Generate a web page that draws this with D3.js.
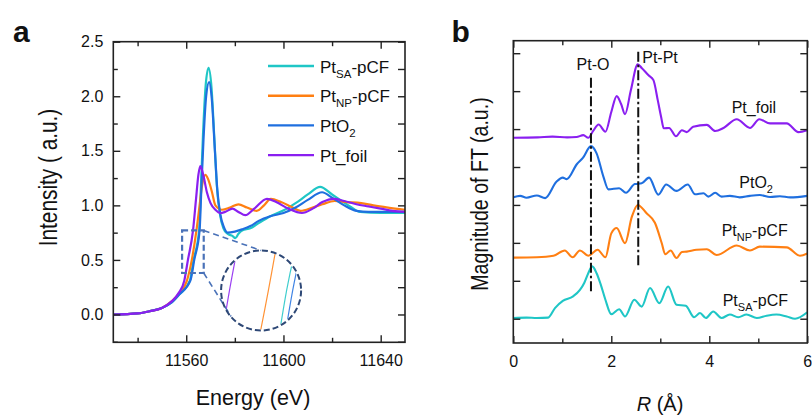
<!DOCTYPE html>
<html>
<head>
<meta charset="utf-8">
<script src="https://cdn.jsdelivr.net/npm/d3@7"></script>
<style>
  body { margin: 0; background: #fff; }
  text { font-family: "Liberation Sans", Arial, sans-serif; fill: #111; }
</style>
</head>
<body>
<svg id="fig" width="812" height="416"></svg>
<script>
// ---------- XANES (panel a): [energy eV, normalized intensity] ----------
const xanesSA = [[11530,0.00],[11540,0.01],[11545,0.03],[11550,0.06],[11554,0.11],[11557,0.18],[11561.5,0.31],[11563.05,0.5],[11565.3,0.77],[11566,1.14],[11566.9,1.65],[11568,2.1],[11569.2,2.26],[11570.4,2.08],[11571.6,1.6],[11572.6,1.18],[11573.8,0.93],[11575.3,0.79],[11577,0.74],[11579,0.72],[11580.2,0.70],[11581.5,0.74],[11583,0.77],[11586.4,0.79],[11590,0.84],[11594.6,0.9],[11601.4,0.97],[11605,1.02],[11610,1.1],[11615.1,1.17],[11620,1.1],[11627.4,0.99],[11631.6,0.94],[11640,0.93],[11650,0.93]];
const xanesNP = [[11530,0.00],[11540,0.01],[11545,0.03],[11550,0.06],[11554,0.12],[11557,0.19],[11560.3,0.31],[11562.3,0.5],[11564.2,0.77],[11565.5,1.0],[11566.5,1.18],[11567.9,1.28],[11569,1.24],[11570.5,1.13],[11572,1.0],[11574.7,0.96],[11578,0.98],[11581.5,1.01],[11585,0.98],[11589,0.95],[11592,1.0],[11594.8,1.06],[11599,1.03],[11603,0.99],[11607,0.95],[11612,0.98],[11616,1.01],[11621,1.04],[11626,1.03],[11632,1.02],[11637,1.0],[11643,0.98],[11650,0.96]];
const xanesPtO2 = [[11530,0.00],[11540,0.01],[11545,0.03],[11550,0.06],[11554,0.11],[11557,0.18],[11561.7,0.31],[11563.3,0.5],[11565.5,0.77],[11566.2,1.14],[11567.1,1.6],[11568.2,2.0],[11569.4,2.13],[11570.5,1.98],[11571.8,1.5],[11572.8,1.14],[11574,0.92],[11575.5,0.8],[11577,0.75],[11580,0.76],[11583,0.78],[11586.4,0.81],[11590,0.86],[11594.6,0.9],[11600,0.93],[11605,0.98],[11610,1.05],[11615.9,1.12],[11620,1.07],[11625,1.0],[11630,0.95],[11635,0.94],[11640,0.94],[11650,0.94]];
const xanesFoil = [[11530,0.00],[11540,0.01],[11545,0.03],[11550,0.06],[11554,0.12],[11557,0.2],[11559.2,0.31],[11560.7,0.5],[11562.8,0.77],[11564,1.05],[11565,1.28],[11565.8,1.36],[11567,1.28],[11568.5,1.12],[11570,1.02],[11572,0.96],[11574,0.93],[11576,0.94],[11579,0.97],[11581.5,0.94],[11584.3,0.91],[11588,0.97],[11593.2,1.06],[11597,1.03],[11602,0.97],[11607.6,0.93],[11612,0.97],[11616,1.03],[11620.7,1.06],[11625,1.04],[11630,1.01],[11635,0.99],[11640,0.97],[11645,0.95],[11650,0.94]];

// ---------- FT-EXAFS (panel b): [R Å, |FT| with vertical offset] ----------
const ftSA = [[0,0.02],[0.27,0.03],[0.48,0.02],[0.71,0.03],[0.85,0.28],[1.01,0.47],[1.22,0.59],[1.36,0.76],[1.45,0.95],[1.53,1.2],[1.61,1.38],[1.7,1.2],[1.78,0.92],[1.88,0.5],[2.0,0.12],[2.16,0.25],[2.28,0.06],[2.47,0.50],[2.62,0.32],[2.79,0.81],[2.98,0.41],[3.16,0.85],[3.33,0.37],[3.52,0.34],[3.69,0.04],[3.81,0.15],[3.93,0.02],[4.08,0.19],[4.25,0.02],[4.42,0.11],[4.59,0.04],[4.76,0.11],[4.97,0.02],[5.17,0.08],[5.37,0.11],[5.58,0.06],[5.75,0.0],[6.0,0.17]];
const ftNP = [[0,1.61],[0.48,1.62],[0.82,1.66],[1.05,1.80],[1.21,1.62],[1.36,1.80],[1.53,1.66],[1.72,1.82],[1.88,1.62],[2.0,2.25],[2.11,2.39],[2.28,1.99],[2.42,2.69],[2.54,3.00],[2.72,2.78],[2.89,2.53],[3.03,1.99],[3.1,1.70],[3.21,1.80],[3.33,1.60],[3.44,1.76],[3.54,1.77],[3.74,1.82],[3.95,1.83],[4.15,1.68],[4.56,1.93],[4.83,1.80],[5.03,1.90],[5.58,1.88],[5.85,1.66],[6.0,1.72]];
const ftPtO2 = [[0,3.20],[0.14,3.24],[0.27,3.19],[0.48,3.25],[0.65,3.18],[0.88,3.61],[1.01,3.72],[1.09,3.68],[1.3,4.08],[1.42,4.24],[1.585,4.55],[1.7,4.36],[1.84,3.74],[1.94,3.41],[2.16,3.44],[2.3,3.32],[2.48,3.55],[2.62,3.57],[2.77,3.72],[2.96,3.27],[3.12,3.54],[3.33,3.37],[3.56,3.54],[3.71,3.28],[3.88,3.31],[3.98,3.22],[4.12,3.32],[4.25,3.22],[4.42,3.24],[4.62,3.20],[4.83,3.24],[5.03,3.26],[5.24,3.21],[5.44,3.23],[5.65,3.20],[6.0,3.24]];
const ftFoil = [[0,4.77],[0.5,4.78],[0.8,4.8],[1.1,4.78],[1.29,4.79],[1.43,4.84],[1.53,4.77],[1.63,4.95],[1.74,5.12],[1.88,4.93],[2.0,5.45],[2.11,5.87],[2.2,5.66],[2.28,5.39],[2.4,6.03],[2.54,6.71],[2.62,6.61],[2.76,6.42],[2.86,6.29],[2.95,5.75],[3.02,5.3],[3.07,5.02],[3.18,5.03],[3.32,4.81],[3.44,4.97],[3.54,4.92],[3.67,5.06],[3.95,5.11],[4.12,4.95],[4.29,5.03],[4.56,5.26],[4.83,5.03],[5.02,5.26],[5.24,5.15],[5.58,5.15],[5.82,4.92],[6.0,4.97]];

// ---------- labels & ticks ----------
const seriesColors = ["#1fc6c6", "#ff7f12", "#1f6fdf", "#8a1ff0"];
const seriesLabels = [
  [["Pt",0],["SA",1],["-pCF",0]],
  [["Pt",0],["NP",1],["-pCF",0]],
  [["PtO",0],["2",1]],
  [["Pt_foil",0]]
];
const xanesMajorTicks = [11560, 11600, 11640];
const xanesMinorTicks = [11540, 11580, 11620];
const intensityTicks = [0, 0.5, 1.0, 1.5, 2.0, 2.5];
const intensityMinorTicks = [-0.25, 0.25, 0.75, 1.25, 1.75, 2.25];
const rMajorTicks = [0, 2, 4, 6];
const rMinorTicks = [1, 3, 5];
const ftTicks = [0, 1, 2, 3, 4, 5, 6, 7];
const bondLines = [{label: "Pt-O", r: 1.585, from: 0.68, to: 6.35},
                   {label: "Pt-Pt", r: 2.55, from: 1.36, to: 7.04}];

const svg = d3.select("#fig");

// text with subscripts: each subscript is lowered, the next run is raised back
function richText(g, parts, size, subSize) {
  let shift = 0;
  parts.forEach(([s, sub]) => {
    const target = sub ? size * 0.3 : 0;
    g.append("tspan").text(s)
      .attr("font-size", sub ? subSize : size)
      .attr("dy", target - shift);
    shift = target;
  });
}

function frameAxes(g, x, y, opts) {
  const [x0, x1] = x.range(), [y0, y1] = y.range();
  g.append("g").attr("transform", `translate(0,${y0})`)
    .call(d3.axisBottom(x).tickValues(opts.xMajor).tickSize(-7).tickPadding(opts.xPad).tickFormat(opts.xfmt))
    .call(a => a.select(".domain").remove());
  g.append("g").attr("transform", `translate(0,${y0})`)
    .call(d3.axisBottom(x).tickValues(opts.xMinor).tickSize(-4.5).tickFormat(""))
    .call(a => a.select(".domain").remove());
  g.append("g").attr("transform", `translate(0,${y1})`)
    .call(d3.axisTop(x).tickValues(opts.xMajor).tickSize(-7).tickFormat(""))
    .call(a => a.select(".domain").remove());
  g.append("g").attr("transform", `translate(0,${y1})`)
    .call(d3.axisTop(x).tickValues(opts.xMinor).tickSize(-4.5).tickFormat(""))
    .call(a => a.select(".domain").remove());
  if (opts.yfmt) {
    g.append("g").attr("transform", `translate(${x0},0)`)
      .call(d3.axisLeft(y).tickValues(opts.yMajor).tickSize(-7).tickPadding(10).tickFormat(opts.yfmt))
      .call(a => a.select(".domain").remove());
  } else {
    g.append("g").attr("transform", `translate(${x0},0)`)
      .call(d3.axisLeft(y).tickValues(opts.yMajor).tickSize(-7))
      .call(a => a.select(".domain").remove())
      .call(a => a.selectAll(".tick text").remove());
  }
  g.append("g").attr("transform", `translate(${x1},0)`)
    .call(d3.axisRight(y).tickValues(opts.yMajor).tickSize(-7))
    .call(a => a.select(".domain").remove())
    .call(a => a.selectAll(".tick text").remove());
  if (opts.yMinor) {
    g.append("g").attr("transform", `translate(${x0},0)`)
      .call(d3.axisLeft(y).tickValues(opts.yMinor).tickSize(-4.5))
      .call(a => a.select(".domain").remove())
      .call(a => a.selectAll(".tick text").remove());
    g.append("g").attr("transform", `translate(${x1},0)`)
      .call(d3.axisRight(y).tickValues(opts.yMinor).tickSize(-7))
      .call(a => a.select(".domain").remove())
      .call(a => a.selectAll(".tick text").remove());
  }
  // drop empty labels left by blank tick formats
  g.selectAll(".tick text").filter(function () { return !this.textContent; }).remove();
  g.selectAll(".tick line").attr("stroke", "#222").attr("stroke-width", 1.4);
  g.selectAll(".tick text").attr("font-size", 16).attr("fill", "#111")
    .attr("font-family", '"Liberation Sans", Arial, sans-serif');
  g.append("rect").attr("x", x0).attr("y", y1).attr("width", x1 - x0).attr("height", y0 - y1)
    .attr("fill", "none").attr("stroke", "#222").attr("stroke-width", 1.6);
}

// ================= panel a =================
const xA = d3.scaleLinear([11530, 11650], [113.3, 405]);
const yA = d3.scaleLinear([-0.255, 2.5], [342.3, 41.7]);
const gA = svg.append("g");
const xanesSeries = [xanesSA, xanesNP, xanesPtO2, xanesFoil];

const lineA = d3.line().x(d => xA(d[0])).y(d => yA(d[1])).curve(d3.curveMonotoneX);
gA.append("g").selectAll("path").data(xanesSeries).join("path")
  .attr("d", lineA).attr("fill", "none")
  .attr("stroke", (d, i) => seriesColors[i]).attr("stroke-width", 2.2);

frameAxes(gA, xA, yA, {
  xMajor: xanesMajorTicks, xMinor: xanesMinorTicks, xPad: 12, xfmt: d3.format("d"),
  yMajor: intensityTicks, yMinor: intensityMinorTicks, yfmt: d3.format(".1f")
});

// zoom box around the absorption edge and its magnified view
const boxE = [11558.3, 11567.2], boxV = [0.38, 0.77];
const lens = {E: 11590.8, v: 0.22, r: 40};
const focus = {E: 11562.0, v: 0.5}, mag = 10;
const lcx = xA(lens.E), lcy = yA(lens.v);
gA.append("rect")
  .attr("x", xA(boxE[0])).attr("y", yA(boxV[1]))
  .attr("width", xA(boxE[1]) - xA(boxE[0])).attr("height", yA(boxV[0]) - yA(boxV[1]))
  .attr("fill", "none").attr("stroke", "#4a72b8").attr("stroke-width", 2.2)
  .attr("stroke-dasharray", "6,3");
const connectors = [
  [[xA(boxE[1]), yA(boxV[1])], [lcx, lcy - lens.r]],
  [[xA(boxE[1]), yA(boxV[0])], [lcx - 30, lcy + 26]]
];
gA.selectAll("line.conn").data(connectors).join("line").attr("class", "conn")
  .attr("x1", d => d[0][0]).attr("y1", d => d[0][1])
  .attr("x2", d => d[1][0]).attr("y2", d => d[1][1])
  .attr("stroke", "#4a72b8").attr("stroke-width", 1.6).attr("stroke-dasharray", "6,4");

svg.append("clipPath").attr("id", "lensClip")
  .append("circle").attr("cx", lcx).attr("cy", lcy).attr("r", lens.r - 1);
const lineLens = d3.line()
  .x(d => lcx + mag * (xA(d[0]) - xA(focus.E)))
  .y(d => lcy + mag * (yA(d[1]) - yA(focus.v)))
  .curve(d3.curveMonotoneX);
gA.append("g").attr("clip-path", "url(#lensClip)")
  .selectAll("path").data(xanesSeries).join("path")
  .attr("d", d => lineLens(d.filter(p => p[0] > 11550 && p[0] < 11570)))
  .attr("fill", "none").attr("stroke", (d, i) => seriesColors[i])
  .attr("stroke-width", 1.2).attr("opacity", 0.85);
gA.append("circle").attr("cx", lcx).attr("cy", lcy).attr("r", lens.r)
  .attr("fill", "none").attr("stroke", "#2e4876").attr("stroke-width", 2)
  .attr("stroke-dasharray", "6,3");

// legend
const legA = gA.append("g");
seriesLabels.forEach((parts, i) => {
  const yy = 66 + i * 29.7;
  legA.append("line").attr("x1", 268).attr("x2", 314).attr("y1", yy).attr("y2", yy)
    .attr("stroke", seriesColors[i]).attr("stroke-width", 2.4);
  const t = legA.append("text").attr("x", 320).attr("y", yy + 6.5);
  richText(t, parts, 17, 11.5);
});

gA.append("text").attr("x", 253).attr("y", 405).attr("text-anchor", "middle")
  .attr("font-size", 21.5).text("Energy (eV)");
gA.append("text").attr("transform", "translate(57,177.5) rotate(-90) scale(0.8,1)")
  .attr("text-anchor", "middle").attr("font-size", 26).text("Intensity ( a.u.)");
svg.append("text").attr("x", 13).attr("y", 42).attr("font-size", 30)
  .attr("font-weight", "bold").text("a");

// ================= panel b =================
const xB = d3.scaleLinear([0, 6], [513.3, 807.3]);
const yB = d3.scaleLinear([-0.64, 7.33], [343, 40.7]);
const gB = svg.append("g");
const ftSeries = [ftSA, ftNP, ftPtO2, ftFoil];
const lineB = d3.line().x(d => xB(d[0])).y(d => yB(d[1])).curve(d3.curveMonotoneX);

gB.append("g").selectAll("path").data(ftSeries).join("path")
  .attr("d", lineB).attr("fill", "none")
  .attr("stroke", (d, i) => seriesColors[i]).attr("stroke-width", 2.1);

// bond reference lines
gB.selectAll("line.bond").data(bondLines).join("line").attr("class", "bond")
  .attr("x1", d => xB(d.r)).attr("x2", d => xB(d.r))
  .attr("y1", d => yB(d.to)).attr("y2", d => yB(d.from))
  .attr("stroke", "#111").attr("stroke-width", 2).attr("stroke-dasharray", "10,3,2.5,3");
gB.append("text").attr("x", xB(bondLines[0].r) + 2).attr("y", 70).attr("text-anchor", "middle")
  .attr("font-size", 16).text(bondLines[0].label);
gB.append("text").attr("x", xB(bondLines[1].r) + 4).attr("y", 63.3)
  .attr("font-size", 16).text(bondLines[1].label);

frameAxes(gB, xB, yB, {
  xMajor: rMajorTicks, xMinor: rMinorTicks, xPad: 12.5, xfmt: d3.format("d"),
  yMajor: ftTicks, yMinor: null, yfmt: null
});

// curve names
const ftLabelPos = [[722.7, 306], [721.7, 236], [739.3, 188.3], [731.7, 113.3]];
seriesLabels.forEach((parts, i) => {
  const t = gB.append("text").attr("x", ftLabelPos[i][0]).attr("y", ftLabelPos[i][1]);
  richText(t, parts, 16, 11);
});

const rt = gB.append("text").attr("x", 660).attr("y", 410.5).attr("text-anchor", "middle")
  .attr("font-size", 20);
rt.append("tspan").attr("font-style", "italic").text("R");
rt.append("tspan").text(" (\u00C5)");
gB.append("text").attr("transform", "translate(488,194) rotate(-90) scale(0.8,1)")
  .attr("text-anchor", "middle").attr("font-size", 24.5).text("Magnitude of FT (a.u.)");
svg.append("text").attr("x", 451.5).attr("y", 42).attr("font-size", 30)
  .attr("font-weight", "bold").text("b");
</script>
</body>
</html>
